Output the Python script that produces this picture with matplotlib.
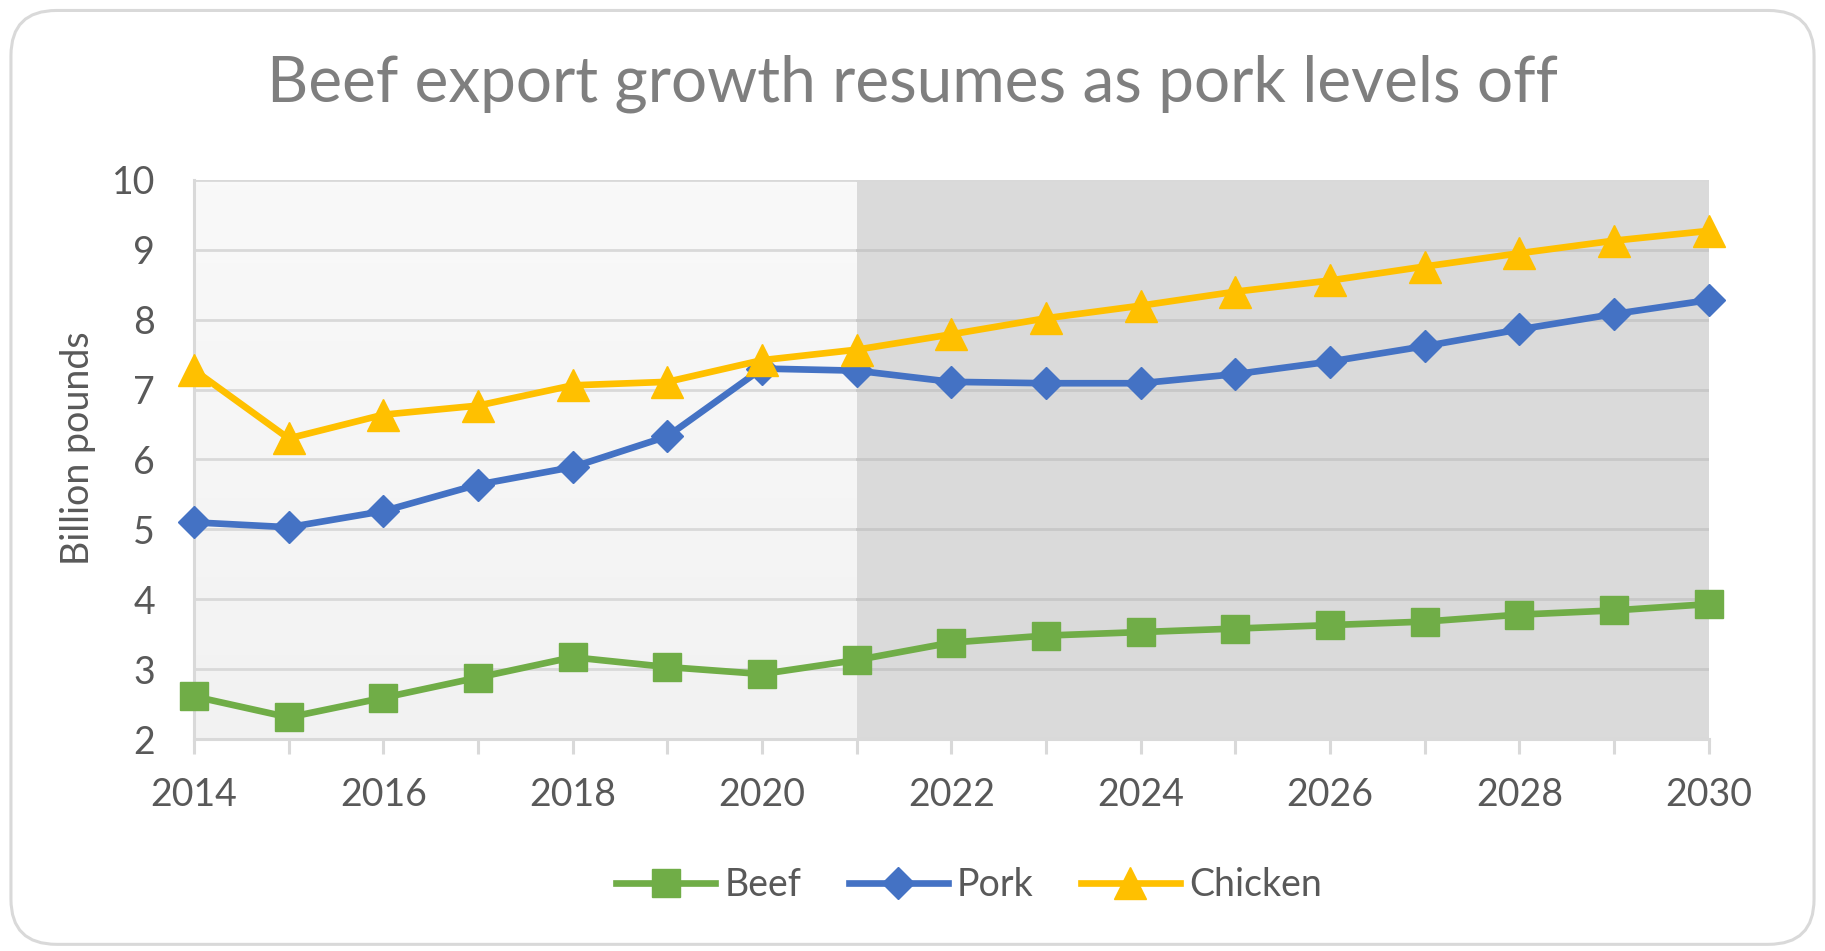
import matplotlib.pyplot as plt
import numpy as np
from matplotlib.colors import LinearSegmentedColormap
from matplotlib.patches import FancyBboxPatch

years = list(range(2014, 2031))
beef = [2.61, 2.31, 2.59, 2.88, 3.17, 3.03, 2.93, 3.13, 3.38, 3.48, 3.53, 3.58, 3.63, 3.68, 3.78, 3.84, 3.93]
pork = [5.10, 5.03, 5.26, 5.64, 5.89, 6.33, 7.30, 7.27, 7.11, 7.09, 7.09, 7.22, 7.40, 7.62, 7.86, 8.08, 8.28]
chicken = [7.28, 6.30, 6.64, 6.77, 7.06, 7.11, 7.42, 7.57, 7.79, 8.02, 8.20, 8.40, 8.56, 8.76, 8.95, 9.13, 9.27]
tick_years = list(range(2014, 2031, 2))
y_ticks = list(range(2, 11))
projection_start = 2021

plt.rcParams["font.family"] = ["Lato", "DejaVu Sans"]
text_color = "#595959"
grid_light = "#d9d9d9"
grid_dark = "#c8c8c8"

fig = plt.figure(figsize=(18.25, 9.51), dpi=100)
fig.patches.append(FancyBboxPatch((0.006, 0.007), 0.988, 0.982,
                                  boxstyle="round,pad=0,rounding_size=0.025",
                                  transform=fig.transFigure, facecolor="white",
                                  edgecolor="#d9d9d9", linewidth=2.2, zorder=-10,
                                  mutation_aspect=1.9))

ax = fig.add_axes([0.1063, 0.2229, 0.830, 0.588])
ax.set_facecolor("none")

# shaded background: history (light gradient) vs projection (gray)
cmap = LinearSegmentedColormap.from_list("bg", ["#f2f2f2", "#f9f9f9"])
ax.imshow(np.linspace(0, 1, 100).reshape(-1, 1), extent=[2014, projection_start, 2, 10],
          origin="lower", aspect="auto", cmap=cmap, zorder=0)
ax.axvspan(projection_start, 2030, color="#dadada", zorder=0, lw=0)
ax.set_xlim(2014, 2030)
ax.set_ylim(2, 10)

for y in y_ticks:
    ax.plot([2014, projection_start], [y, y], color=grid_light, lw=2.0, zorder=1)
    ax.plot([projection_start, 2030], [y, y], color=grid_dark if y < 10 else grid_light,
            lw=2.0, zorder=1)

ax.plot(years, beef, color="#70ad47", lw=4.8, marker="s", markersize=20,
        label="Beef", clip_on=False, zorder=5)
ax.plot(years, pork, color="#4472c4", lw=4.8, marker="D", markersize=16,
        label="Pork", clip_on=False, zorder=5)
ax.plot(years, chicken, color="#ffc000", lw=4.8, marker="^", markersize=23,
        label="Chicken", clip_on=False, zorder=5)

for side in ["top", "right"]:
    ax.spines[side].set_visible(False)
ax.spines["bottom"].set_color(grid_light)
ax.spines["bottom"].set_linewidth(2.2)
ax.spines["left"].set_color(grid_light)
ax.spines["left"].set_linewidth(2.2)

ax.set_xticks(years)
ax.set_xticklabels([str(y) if y in tick_years else "" for y in years])
ax.set_yticks(y_ticks)
ax.tick_params(axis="x", length=11, width=2.2, color=grid_light, pad=16,
               labelsize=27, labelcolor=text_color)
ax.tick_params(axis="y", length=0, pad=28, labelsize=27, labelcolor=text_color)

fig.text(0.043, 0.529, "Billion pounds", rotation=90, ha="center", va="center",
         fontsize=27, color=text_color)
fig.text(0.5, 0.912, "Beef export growth resumes as pork levels off", ha="center",
         va="center", fontsize=46, color="#7f7f7f")

fig.legend(loc="center", bbox_to_anchor=(0.531, 0.069), ncol=3, frameon=False,
           fontsize=27, labelcolor=text_color, handlelength=2.64, handletextpad=0.25,
           columnspacing=1.25)

fig.savefig("out.png", dpi=100)
